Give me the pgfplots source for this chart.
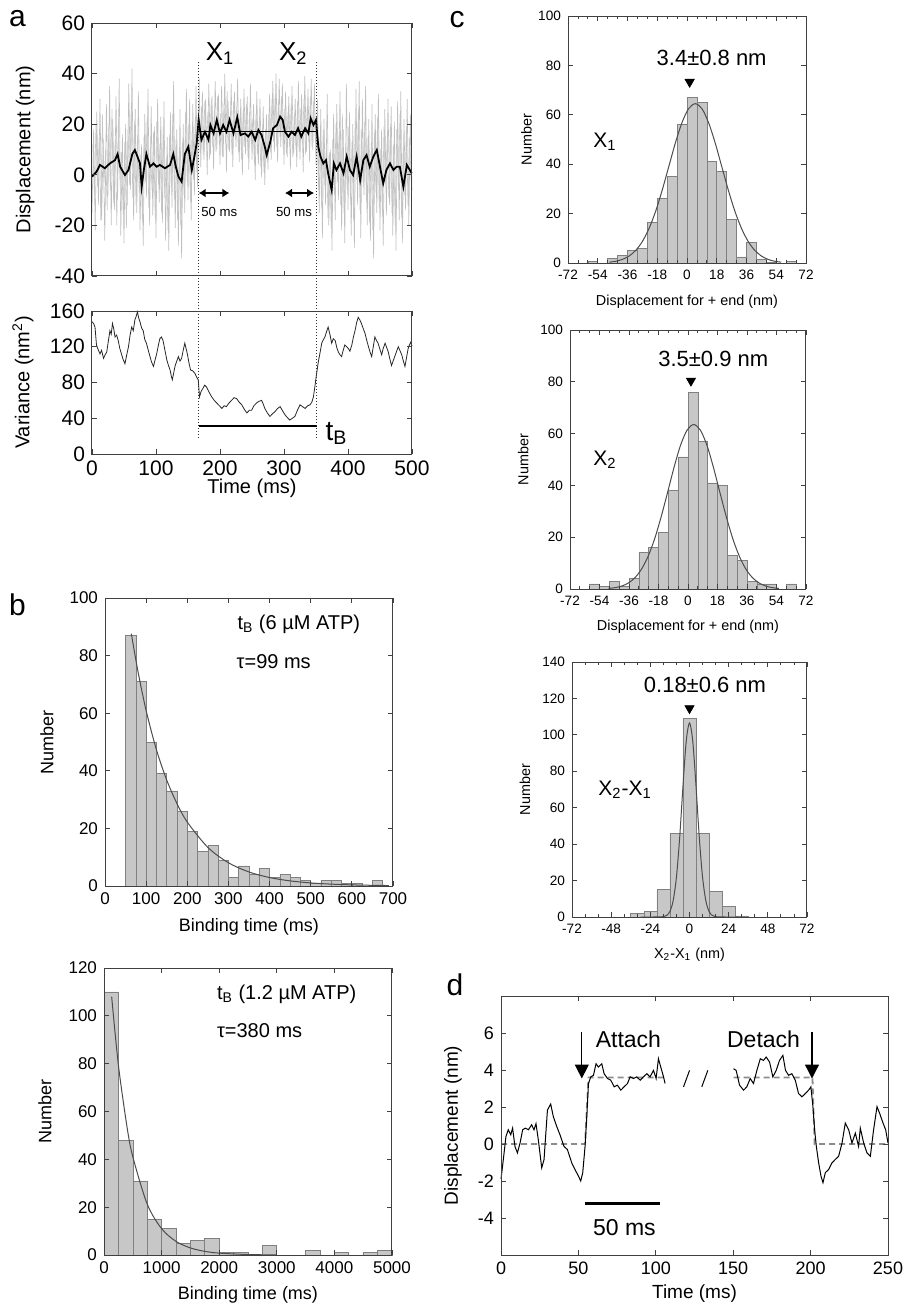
\documentclass[border=0pt]{standalone}
\usepackage{fontspec}
\setmainfont{Liberation Sans}
\usepackage{pgfplots}
\pgfplotsset{compat=1.18}
\usetikzlibrary{arrows.meta}
\newcommand{\fs}[1]{\fontsize{#1}{#1}\selectfont}

\pgfplotsset{
  base/.style={scale only axis, anchor=north west, clip=false, axis on top,
    axis line style={black!75, line width=0.5pt},
    tick style={black!75, line width=0.4pt}, major tick length=2.5pt, minor tick length=1.5pt,
    /pgf/number format/assume math mode=true,
    xlabel style={anchor=center}, ylabel style={anchor=center}},
  hist/.style={ybar interval, fill=black!22, draw=black!50, line width=0.3pt},
  fit/.style={black!70, line width=0.5pt, smooth},
}

\begin{document}
\begin{tikzpicture}
\path[use as bounding box] (0,0) rectangle (451.5pt,-653pt);

% panel letters
\node[font=\fs{15}] at (8.75pt,-9.25pt) {a};
\node[font=\fs{15}] at (8.75pt,-302.25pt) {b};
\node[font=\fs{15}] at (228.5pt,-10pt) {c};
\node[font=\fs{15}] at (227.5pt,-492.5pt) {d};

% ---------- a, displacement trace ----------
\begin{axis}[base, at={(46pt,-11.5pt)}, width=160pt, height=126.5pt,
  xmin=0, xmax=500, ymin=-40, ymax=60,
  xtick={0,100,...,500}, xticklabels={}, ytick={-40,-20,...,60},
  ylabel={Displacement (nm)}, ylabel style={at={(axis description cs:-0.209,0.5)}},
  tick label style={font=\fs{10.5}}, label style={font=\fs{10}}]
\addplot[black!25, line width=0.3pt] coordinates {
(0,-15)(2.5,18)(5,-22)(7.5,25)(10,-12)(12.5,30)(15,-18)(17.5,14)(20,-26)(22.5,28)
(25,-8)(27.5,35)(30,-20)(32.5,22)(35,-14)(37.5,31)(40,-10)(42.5,38)(45,-24)(47.5,16)
(50,-27)(52.5,20)(55,-12)(57.5,36)(60,-6)(62.5,42)(65,-18)(67.5,26)(70,-15)(72.5,33)
(75,-22)(77.5,12)(80,-28)(82.5,24)(85,-9)(87.5,34)(90,-20)(92.5,27)(95,-16)(97.5,19)
(100,-25)(102.5,30)(105,-11)(107.5,23)(110,-19)(112.5,29)(115,-26)(117.5,15)(120,-30)(122.5,25)
(125,-13)(127.5,37)(130,-21)(132.5,18)(135,-28)(137.5,26)(140,-33)(142.5,20)(145,-15)(147.5,34)
(150,-10)(152.5,30)(155,-18)(157.5,28)(160,-8)(162.5,35)(165,-5)
(167.5,38)(170,3)(172.5,33)(175,6)(177.5,30)(180,0)(182.5,36)(185,8)(187.5,31)(190,2)
(192.5,37)(195,10)(197.5,32)(200,4)(202.5,35)(205,7)(207.5,40)(210,1)(212.5,29)(215,9)
(217.5,36)(220,3)(222.5,33)(225,11)(227.5,38)(230,5)(232.5,30)(235,0)(237.5,34)(240,8)
(242.5,31)(245,2)(247.5,36)(250,6)(252.5,28)(255,-2)(257.5,33)(260,4)(262.5,30)(265,-1)
(267.5,27)(270,-4)(272.5,24)(275,2)(277.5,32)(280,6)(282.5,37)(285,9)(287.5,40)(290,5)
(292.5,38)(295,11)(297.5,36)(300,4)(302.5,33)(305,7)(307.5,31)(310,2)(312.5,35)(315,8)
(317.5,30)(320,3)(322.5,37)(325,6)(327.5,32)(330,1)(332.5,39)(335,9)(337.5,34)(340,5)
(342.5,38)(345,10)(347.5,36)(350,4)
(352.5,30)(355,-15)(357.5,26)(360,-25)(362.5,22)(365,-12)(367.5,32)(370,-20)(372.5,10)(375,-30)
(377.5,24)(380,-18)(382.5,28)(385,-10)(387.5,33)(390,-22)(392.5,18)(395,-27)(397.5,36)(400,-14)
(402.5,25)(405,-24)(407.5,20)(410,-29)(412.5,34)(415,-12)(417.5,37)(420,-25)(422.5,30)(425,-8)
(427.5,35)(430,-20)(432.5,22)(435,-26)(437.5,28)(440,-33)(442.5,24)(445,-15)(447.5,32)(450,-22)
(452.5,18)(455,-28)(457.5,26)(460,-16)(462.5,30)(465,-12)(467.5,27)(470,-24)(472.5,21)(475,-30)
(477.5,29)(480,-18)(482.5,33)(485,-27)(487.5,22)(490,-14)(492.5,30)(495,-20)(497.5,24)(500,-6)};
\addplot[black!22, line width=0.3pt] coordinates {
(1.25,12)(3.75,-8)(6.25,20)(8.75,-5)(11.25,15)(13.75,-18)(16.25,24)(18.75,-3)(21.25,10)(23.75,-14)
(26.25,19)(28.75,-6)(31.25,26)(33.75,-11)(36.25,14)(38.75,-20)(41.25,22)(43.75,-2)(46.25,9)(48.75,-16)
(51.25,13)(53.75,-21)(56.25,18)(58.75,-4)(61.25,27)(63.75,-9)(66.25,21)(68.75,-12)(71.25,16)(73.75,-7)
(76.25,8)(78.75,-19)(81.25,15)(83.75,-3)(86.25,23)(88.75,-13)(91.25,11)(93.75,-6)(96.25,17)(98.75,-17)
(101.25,21)(103.75,-4)(106.25,12)(108.75,-15)(111.25,19)(113.75,-9)(116.25,7)(118.75,-22)(121.25,16)(123.75,-5)
(126.25,24)(128.75,-10)(131.25,14)(133.75,-18)(136.25,10)(138.75,-20)(141.25,13)(143.75,-8)(146.25,25)(148.75,-3)
(151.25,20)(153.75,-11)(156.25,17)(158.75,-2)(161.25,22)(163.75,1)(166.25,28)
(168.75,9)(171.25,27)(173.75,8)(176.25,29)(178.75,12)(181.25,25)(183.75,6)(186.25,30)(188.75,11)(191.25,26)
(193.75,9)(196.25,31)(198.75,13)(201.25,24)(203.75,7)(206.25,28)(208.75,12)(211.25,33)(213.75,10)(216.25,25)
(218.75,8)(221.25,29)(223.75,14)(226.25,27)(228.75,9)(231.25,24)(233.75,6)(236.25,26)(238.75,11)(241.25,28)
(243.75,7)(246.25,25)(248.75,12)(251.25,22)(253.75,4)(256.25,24)(258.75,8)(261.25,21)(263.75,3)(266.25,19)
(268.75,1)(271.25,18)(273.75,5)(276.25,24)(278.75,9)(281.25,30)(283.75,13)(286.25,32)(288.75,11)(291.25,29)
(293.75,15)(296.25,31)(298.75,10)(301.25,26)(303.75,8)(306.25,25)(308.75,11)(311.25,28)(313.75,7)(316.25,24)
(318.75,10)(321.25,29)(323.75,9)(326.25,26)(328.75,12)(331.25,30)(333.75,8)(336.25,27)(338.75,13)(341.25,31)
(343.75,11)(346.25,29)(348.75,14)
(351.25,22)(353.75,-6)(356.25,15)(358.75,-13)(361.25,18)(363.75,-4)(366.25,12)(368.75,-17)(371.25,9)(373.75,-21)
(376.25,14)(378.75,-8)(381.25,20)(383.75,-3)(386.25,17)(388.75,-12)(391.25,24)(393.75,-15)(396.25,11)(398.75,-6)
(401.25,19)(403.75,-10)(406.25,13)(408.75,-18)(411.25,22)(413.75,-2)(416.25,26)(418.75,-14)(421.25,18)(423.75,-5)
(426.25,21)(428.75,-11)(431.25,15)(433.75,-19)(436.25,12)(438.75,-22)(441.25,17)(443.75,-7)(446.25,23)(448.75,-13)
(451.25,10)(453.75,-16)(456.25,19)(458.75,-4)(461.25,14)(463.75,-9)(466.25,20)(468.75,-15)(471.25,12)(473.75,-20)
(476.25,18)(478.75,-6)(481.25,24)(483.75,-17)(486.25,11)(488.75,-8)(491.25,19)(493.75,-12)(496.25,15)(498.75,-3)};
\addplot[black, line width=0.9pt] coordinates {
(0,-0.7)(7,1.2)(12.5,3.9)(20,2.6)(28,4.5)(36,5.8)(40,8.2)(44,3.2)(51.5,-0.1)(57,1.9)
(63,8.2)(67,9.8)(71,7.2)(75,4.5)(77.6,-4.7)(81,1.9)(85,8.2)(90.6,3.2)(96,4.5)(101,3.2)
(106,3.9)(114,2.6)(122,3.9)(127,8.2)(131,3.2)(135,-0.7)(140,-2.7)(145,8.2)(150.5,11.1)(156,1.9)
(160,7.2)(163.5,12.4)(166.7,21.7)(171,13.8)(176.5,17)(182,13.8)(185,19.7)(190,16.4)(195,21.7)(200,16.4)
(205,19.7)(210,17)(215,21.7)(221,16.4)(227,22.7)(232,15.7)(239,16.4)(244,15.1)(249.5,17)(255,13.8)
(260,17.7)(265,15.7)(270,11.1)(273,7.8)(278,12.4)(283,18.4)(289,19.7)(294,23)(298,21.7)(301.5,17)
(307,15.1)(312,17)(317,15.7)(322,18.4)(327,15.1)(333,18.4)(338,16.4)(341.7,22.3)(346,19.7)(350,21.7)
(353.6,11.1)(357,7.2)(361.5,4.5)(365.6,5.8)(369,0.6)(374.5,-6)(378,4.5)(382,1.9)(387.5,4.5)(393,0.6)
(398,7.2)(403,1.9)(408,-0.1)(413.5,7.2)(419,-2.1)(424,5.8)(429,7.8)(434,3.2)(439.6,7.2)(445,9.8)
(450,3.2)(455,-3.4)(460,1.9)(465.6,4.5)(471,1.9)(476,3.2)(481,3.2)(486.5,-4.7)(492,3.9)(499.5,0.6)};
\addplot[black, line width=0.6pt] coordinates {(166.7,17)(351,17)};
\addplot[black!80, densely dotted, line width=0.5pt] coordinates {(166.7,44.6)(166.7,-53.8)};
\addplot[black!80, densely dotted, line width=0.5pt] coordinates {(351,44.6)(351,-53.8)};
\addplot[black, line width=1pt, {Latex[length=3.5pt,width=4.5pt]}-{Latex[length=3.5pt,width=4.5pt]}] coordinates {(166.7,-7.2)(214.7,-7.2)};
\addplot[black, line width=1pt, {Latex[length=3.5pt,width=4.5pt]}-{Latex[length=3.5pt,width=4.5pt]}] coordinates {(301.6,-7.2)(346.9,-7.2)};
\node[font=\fs{6.6}] at (axis cs:199,-14.6) {50 ms};
\node[font=\fs{6.6}] at (axis cs:315.6,-14.6) {50 ms};
\node[font=\fs{13}] at (axis cs:200,48) {X\textsubscript{1}};
\node[font=\fs{13}] at (axis cs:314.6,48) {X\textsubscript{2}};
\end{axis}

% ---------- a, variance ----------
\begin{axis}[base, at={(46pt,-155.5pt)}, width=160pt, height=71.5pt,
  xmin=0, xmax=500, ymin=0, ymax=160,
  xtick={0,100,...,500}, ytick={0,40,...,160},
  xlabel={Time (ms)}, xlabel style={at={(axis description cs:0.5,-0.238)}},
  ylabel={Variance (nm\textsuperscript{2})}, ylabel style={at={(axis description cs:-0.216,0.5)}},
  tick label style={font=\fs{10.5}}, label style={font=\fs{10}}]
\addplot[black!85, line width=0.4pt] coordinates {
(0,148)(2.5,146)(4.7,142)(7,122)(9,118)(12.5,112)(15,116)(18,107)(20.5,111)(23,114)
(25.5,126)(28,138)(30,134)(32,146)(34,140)(36,131)(38.5,133)(41,127)(43.5,118)(46,112)
(48.5,106)(51.5,101)(54,110)(57,120)(59.5,133)(62,142)(64.5,138)(67,150)(69,154)(71,159)
(73,152)(75,148)(77.5,141)(80,138)(82.5,128)(85,124)(88,116)(90.6,109)(93,103)(96,98)
(98.5,105)(101,112)(103.5,121)(106,129)(108.5,131)(111,127)(114,116)(117,105)(119.5,99)(122,94)
(124,87)(125.5,83)(128,92)(130,99)(132.5,104)(135,109)(137.5,104)(140,107)(142.5,116)(145,124)
(147,118)(149,112)(151.5,102)(154,94)(157.5,93)(161,90)(163.5,86)(166,83)(168,64)(170.5,70)
(173,73)(176,77)(179,75)(183,69)(187,64)(191,60)(195,57)(199,54)(203,51)(206.5,54)
(210,53)(214,57)(218,60)(222,63)(226,62)(230,58)(234,55)(238,50)(242,46)(246,49)
(249.5,49)(253,54)(257,57)(261,59)(265,60)(267.5,56)(270,51)(274,46)(278,42)(282,45)
(286,47.5)(290,51)(294,53)(298,48)(301.5,44)(305,41)(309,38)(313,40)(317,42)(321,49)
(325,55)(329,53)(333,51)(337,54)(340.6,55)(343.5,58)(346,64)(348,74)(350,85)(352,95)
(353.6,103)(356.5,114)(359,124)(361.5,128)(364,131)(366.5,137)(369,142)(372,133)(374.5,124)(377,129)
(380,127)(382.5,119)(385,114)(387.5,111)(390,109)(392.5,116)(395,122)(398,120)(400.5,118)(403,115)
(406,122)(408.5,131)(411,138)(413.5,147)(416,153)(418.5,150)(421,146)(424,140)(426.6,135)(429,128)
(432,120)(434.5,114)(437,109)(439.5,120)(442,131)(444.5,127)(447,124)(450,117)(452.6,111)(455,118)
(458,124)(460.5,119)(463,114)(465.5,106)(468,99)(470.5,104)(473,109)(476,115)(478.6,120)(481,116)
(484,111)(486.5,104)(489,98)(491.5,108)(494,118)(496,122)(498,125)(500,121)};
\addplot[black, line width=1.1pt] coordinates {(166.7,31)(351,31)};
\addplot[black!80, densely dotted, line width=0.5pt] coordinates {(166.7,160)(166.7,16)};
\addplot[black!80, densely dotted, line width=0.5pt] coordinates {(351,160)(351,16)};
\node[font=\fs{14}] at (axis cs:382,23) {t\textsubscript{B}};
\end{axis}

% ---------- b, 6 uM ATP ----------
\begin{axis}[base, at={(52.5pt,-299pt)}, width=144pt, height=144pt,
  xmin=0, xmax=700, ymin=0, ymax=100,
  xtick={0,100,...,700}, ytick={0,20,...,100},
  xlabel={Binding time (ms)}, xlabel style={at={(axis description cs:0.5,-0.143)}},
  ylabel={Number}, ylabel style={at={(axis description cs:-0.202,0.5)}},
  tick label style={font=\fs{8.5}}, label style={font=\fs{9}}]
\addplot[hist] coordinates {
(50,87)(75,71)(100,50)(125,39)(150,33)(175,26)(200,19)(225,12)(250,14)(275,9)
(300,3)(325,7)(350,4)(375,6)(400,3)(425,4)(450,3)(475,2)(500,1)(525,2)
(550,2)(575,1)(600,1)(625,0)(650,2)(675,0)};
\addplot[fit] coordinates {
(64,87.6)(80,74.6)(100,60.9)(125,47.3)(150,36.8)(175,28.6)(200,22.2)(250,13.4)(300,8.08)
(350,4.87)(400,2.94)(450,1.78)(500,1.07)(550,0.65)(600,0.39)(650,0.24)(690,0.16)};
\node[font=\fs{10}, anchor=west] at (axis cs:305,91) {t\textsubscript{B} (6 µM ATP)};
\node[font=\fs{10}, anchor=west] at (axis cs:303,78) {τ=99 ms};
\end{axis}

% ---------- b, 1.2 uM ATP ----------
\begin{axis}[base, at={(52pt,-484pt)}, width=144pt, height=143.5pt,
  xmin=0, xmax=5000, ymin=0, ymax=120,
  xtick={0,1000,...,5000}, ytick={0,20,...,120},
  scaled x ticks=false, xticklabel style={/pgf/number format/set thousands separator={}},
  xlabel={Binding time (ms)}, xlabel style={at={(axis description cs:0.5,-0.139)}},
  ylabel={Number}, ylabel style={at={(axis description cs:-0.205,0.5)}},
  tick label style={font=\fs{8.5}}, label style={font=\fs{9}}]
\addplot[hist] coordinates {
(0,110)(250,48)(500,31)(750,15)(1000,11)(1250,5)(1500,6)(1750,7)(2000,1)(2250,1)
(2500,0)(2750,4)(3000,0)(3250,0)(3500,2)(3750,0)(4000,1)(4250,0)(4500,1)(4750,2)(5000,0)};
\addplot[fit] coordinates {
(133,108)(250,79.4)(400,53.5)(500,41.1)(750,21.3)(1000,11.0)(1250,5.71)(1500,2.96)
(1750,1.53)(2000,0.79)(2500,0.21)(3000,0.05)};
\node[font=\fs{10}, anchor=west] at (axis cs:1840,109) {t\textsubscript{B} (1.2 µM ATP)};
\node[font=\fs{10}, anchor=west] at (axis cs:1840,94) {τ=380 ms};
\end{axis}

% ---------- c, X1 ----------
\begin{axis}[base, at={(284pt,-8pt)}, width=119pt, height=123.5pt,
  xmin=-72, xmax=72, ymin=0, ymax=100,
  xtick={-72,-54,...,72}, minor x tick num=2, ytick={0,20,...,100},
  xlabel={Displacement for + end (nm)}, xlabel style={at={(axis description cs:0.5,-0.157)}},
  ylabel={Number}, ylabel style={at={(axis description cs:-0.174,0.5)}},
  tick label style={font=\fs{6.8}}, label style={font=\fs{7.2}}]
\addplot[hist] coordinates {
(-60,0.5)(-54,0)(-48,2)(-42,3)(-36,5)(-30,6)(-24,16.5)(-18,26)(-12,35)(-6,56)
(0,67)(6,65)(12,41)(18,37)(24,17.5)(30,2.5)(36,8.5)(42,1.5)(48,0.4)(54,0)(60,0.5)(66,0)};
\addplot[fit] coordinates {
(-47,0.33)(-43,0.72)(-39,1.47)(-35,2.83)(-31,5.13)(-27,8.73)(-23,13.95)(-19,20.9)(-15,29.5)
(-11,39.1)(-7,48.7)(-3,56.9)(1,62.5)(5,64.5)(9,62.5)(13,56.9)(17,48.7)(21,39.1)(25,29.5)
(29,20.9)(33,13.95)(37,8.73)(41,5.13)(45,2.83)(49,1.47)(53,0.72)(57,0.33)};
\addplot[only marks, mark=triangle*, mark size=2.6pt, mark options={rotate=180, fill=black, draw=black}] coordinates {(1.6,73.3)};
\node[font=\fs{11}] at (axis cs:14.9,82.9) {3.4±0.8 nm};
\node[font=\fs{10.5}] at (axis cs:-49.6,49.1) {X\textsubscript{1}};
\end{axis}

% ---------- c, X2 ----------
\begin{axis}[base, at={(285pt,-165pt)}, width=118pt, height=129.5pt,
  xmin=-72, xmax=72, ymin=0, ymax=100,
  xtick={-72,-54,...,72}, minor x tick num=2, ytick={0,20,...,100},
  xlabel={Displacement for + end (nm)}, xlabel style={at={(axis description cs:0.5,-0.146)}},
  ylabel={Number}, ylabel style={at={(axis description cs:-0.198,0.5)}},
  tick label style={font=\fs{6.8}}, label style={font=\fs{7.2}}]
\addplot[hist] coordinates {
(-60,2)(-54,1)(-48,3)(-42,1)(-36,4)(-30,14)(-24,16)(-18,22)(-12,38)(-6,51)
(0,76)(6,57)(12,41)(18,40)(24,13)(30,11)(36,3)(42,2)(48,2)(54,0)(60,2)(66,0)};
\addplot[fit] coordinates {
(-48.5,0.23)(-44.5,0.52)(-40.5,1.13)(-36.5,2.27)(-32.5,4.27)(-28.5,7.52)(-24.5,12.4)(-20.5,19.1)
(-16.5,27.6)(-12.5,37.2)(-8.5,47.0)(-4.5,55.6)(-0.5,61.4)(3.5,63.5)(7.5,61.4)(11.5,55.6)(15.5,47.0)
(19.5,37.2)(23.5,27.6)(27.5,19.1)(31.5,12.4)(35.5,7.52)(39.5,4.27)(43.5,2.27)(47.5,1.13)(51.5,0.52)(55.5,0.23)};
\addplot[only marks, mark=triangle*, mark size=2.6pt, mark options={rotate=180, fill=black, draw=black}] coordinates {(1.8,80.4)};
\node[font=\fs{11}] at (axis cs:15.4,89) {3.5±0.9 nm};
\node[font=\fs{10.5}] at (axis cs:-50.6,49.8) {X\textsubscript{2}};
\end{axis}

% ---------- c, X2-X1 ----------
\begin{axis}[base, at={(286pt,-331pt)}, width=117.5pt, height=127.5pt,
  xmin=-72, xmax=72, ymin=0, ymax=140,
  xtick={-72,-48,...,72}, minor x tick num=2, ytick={0,20,...,140},
  xlabel={X\textsubscript{2}-X\textsubscript{1} (nm)}, xlabel style={at={(axis description cs:0.5,-0.149)}},
  ylabel={Number}, ylabel style={at={(axis description cs:-0.2,0.5)}},
  tick label style={font=\fs{6.8}}, label style={font=\fs{7.2}}]
\addplot[hist] coordinates {
(-36,2)(-28,3)(-20,15)(-12,46)(-4,109)(4,46)(12,14)(20,6)(28,0.6)(36,0)};
\addplot[fit] coordinates {
(-30,0)(-20,0.02)(-16,0.19)(-14,0.84)(-12,3.04)(-10,9.02)(-8,21.9)(-6,43.8)(-4,71.8)(-2,96.5)
(0,106.5)(2,96.5)(4,71.8)(6,43.8)(8,21.9)(10,9.02)(12,3.04)(14,0.84)(16,0.19)(20,0.02)(30,0)};
\addplot[only marks, mark=triangle*, mark size=2.6pt, mark options={rotate=180, fill=black, draw=black}] coordinates {(0,114.6)};
\node[font=\fs{11}] at (axis cs:9.5,127.4) {0.18±0.6 nm};
\node[font=\fs{10.5}] at (axis cs:-39.5,69.7) {X\textsubscript{2}-X\textsubscript{1}};
\end{axis}

% ---------- d ----------
\begin{axis}[base, at={(250.5pt,-498pt)}, width=193.5pt, height=129.5pt,
  xmin=0, xmax=250, ymin=-6, ymax=8,
  xtick={0,50,...,250}, ytick={-4,-2,...,6},
  xlabel={Time (ms)}, xlabel style={at={(axis description cs:0.5,-0.148)}},
  ylabel={Displacement (nm)}, ylabel style={at={(axis description cs:-0.124,0.5)}},
  tick label style={font=\fs{9}}, label style={font=\fs{9.5}}]
\addplot[black!45, dashed, dash pattern=on 3pt off 2pt, line width=0.9pt] coordinates {(0,0)(54.3,0)(56.5,3.6)(106,3.6)};
\addplot[black!45, dashed, dash pattern=on 3pt off 2pt, line width=0.9pt] coordinates {(150.2,3.6)(201.2,3.6)(202.6,0)(250,0)};
\addplot[black, line width=0.5pt] coordinates {
(0,-1.9)(1.5,-0.84)(3.2,0.41)(4.7,0.77)(6.3,0.5)(7.5,0.86)(9,-0.13)(10.6,-0.48)(12.3,0.05)(14,0.77)
(15.7,0.86)(17.7,0.77)(19.8,1.04)(21.3,0.77)(22.6,1.1)(24.1,0.23)(26.3,-1.29)(27.8,-0.84)(30,1.84)(32.1,2.16)
(33.8,1.48)(36,0.95)(38.1,0.5)(40.7,-0.13)(42.9,-0.3)(45.7,-1.02)(47.8,-1.38)(50,-1.73)(51.5,-2.0)(52.8,-1.55)
(54.3,-0.13)(55.4,1.48)(56.5,3.27)(58,3.63)(59.7,3.71)(61.4,4.34)(62.9,4.16)(65.1,4.34)(66.6,3.8)(68.8,3.54)
(70.9,3.45)(73.1,3.09)(75.2,3.18)(77.4,2.91)(79.5,3.09)(81.7,3.27)(83.4,3.63)(85.6,3.54)(87.7,3.63)(89.9,3.45)
(92,3.63)(94.2,3.8)(96.3,3.63)(98.5,3.98)(100.2,3.54)(101.7,4.61)(103.2,4.16)(105,3.63)(106,3.27)};
\addplot[black, line width=0.5pt] coordinates {
(150.2,4.07)(151.9,3.98)(154.1,3.18)(156.7,2.91)(158.8,3.09)(161,3.54)(163.1,3.27)(165.3,3.98)(167.5,4.61)(169.6,4.52)
(171.3,4.7)(173.5,4.43)(175.6,3.63)(177.8,3.98)(179.9,4.52)(182.1,4.79)(183.8,3.98)(185.8,3.71)(187.9,3.8)(190.1,3.45)
(192.2,2.73)(194.4,2.55)(196.6,2.73)(198.7,2.91)(200.2,3.09)(201.5,2.02)(202.6,0.77)(203.7,-0.13)(205.2,-1.02)(206.7,-1.73)
(208,-2.09)(209.5,-1.55)(211.6,-1.38)(213.8,-1.02)(215.9,-0.84)(218.1,-0.66)(220.3,0.05)(222.4,1.13)(224.6,0.77)(226.7,0.05)
(228.9,0.59)(231,-0.13)(232.1,0.86)(234.3,0.05)(236.4,-0.48)(238.6,-0.66)(240.7,0.77)(242.9,2.02)(244.6,1.66)(246.8,1.13)
(248.5,0.77)(250,0.05)};
\addplot[black, line width=0.5pt] coordinates {(117.9,3.09)(121.8,3.98)};
\addplot[black, line width=0.5pt] coordinates {(129.7,3.09)(133.6,3.98)};
\addplot[black, line width=0.6pt, -{Triangle[width=7pt,length=7pt]}] coordinates {(52.2,6.04)(52.2,3.54)};
\addplot[black, line width=0.6pt, -{Triangle[width=7pt,length=7pt]}] coordinates {(200.9,6.04)(200.9,3.54)};
\addplot[black, line width=1.7pt] coordinates {(54.3,-3.2)(102.8,-3.2)};
\node[font=\fs{11.5}] at (axis cs:82.3,5.68) {Attach};
\node[font=\fs{11.5}] at (axis cs:169.6,5.68) {Detach};
\node[font=\fs{11.5}] at (axis cs:79.7,-4.5) {50 ms};
\end{axis}
\end{tikzpicture}
\end{document}
